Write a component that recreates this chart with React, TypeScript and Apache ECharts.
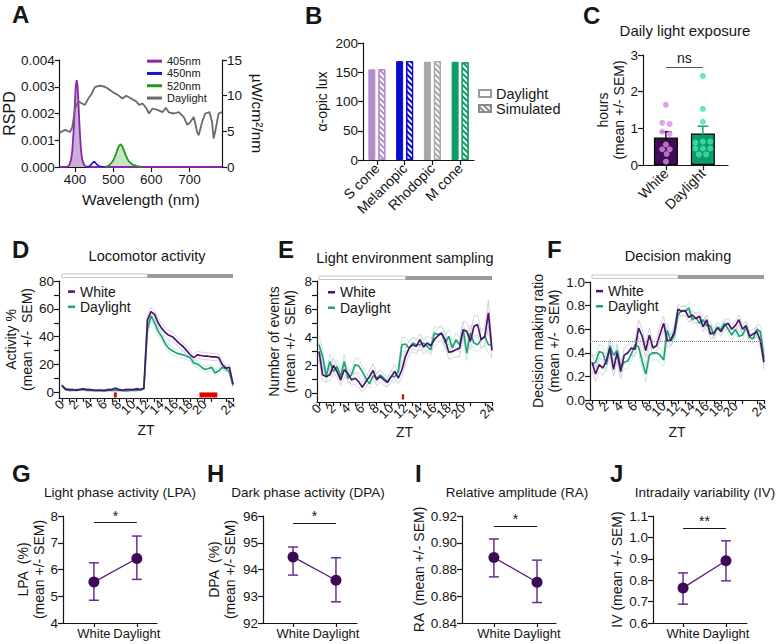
import React, { useEffect, useRef } from 'react';
import * as echarts from 'echarts';

const FONT = 'Liberation Sans, Arial, Helvetica, sans-serif';
const INK = '#161616';

// ---------- Panel A: spectra ----------
const wl405 = [360, 380, 385, 390, 393, 396, 398, 400, 402, 404.5, 407, 409, 411, 413, 416, 419, 424, 430, 440, 785];
const rspd405 = [0, 0.00001, 0.00007, 0.00028, 0.0006, 0.00125, 0.0018, 0.00245, 0.003, 0.00325, 0.003, 0.00245, 0.0018, 0.00125, 0.0006, 0.00028, 0.00007, 0.00001, 0, 0];
const wl450 = [430, 438, 443, 447, 450, 453, 457, 462, 470, 480];
const rspd450 = [0, 0.00003, 0.0001, 0.00017, 0.0002, 0.00017, 0.0001, 0.00004, 0.00001, 0];
const wl520 = [478, 485, 490, 495, 500, 505, 510, 515, 519, 523, 527, 532, 537, 542, 550, 560, 575];
const rspd520 = [0, 0.00003, 0.00007, 0.00015, 0.00024, 0.0004, 0.0006, 0.00078, 0.00085, 0.0008, 0.00066, 0.00047, 0.00031, 0.0002, 0.0001, 0.00004, 0];
const wlDay = [360, 374, 387, 393, 400, 409, 419, 426, 435, 443, 452, 465, 478, 486, 499, 512, 525, 534, 547, 560, 568, 577, 586, 594, 603, 616, 629, 638, 646, 659, 672, 685, 694, 702, 711, 720, 724, 733, 741, 752, 759, 763, 767, 776, 785];
const irrDay = [4.8, 5.2, 4.9, 5.6, 8.2, 9.2, 8.9, 8.7, 9.6, 10.2, 11.2, 11.4, 11.25, 11.0, 10.5, 10.1, 9.6, 10.0, 9.6, 9.2, 8.7, 8.9, 8.3, 7.5, 8.2, 8.0, 7.7, 8.3, 7.65, 7.5, 7.7, 7.0, 5.9, 6.3, 7.0, 4.9, 4.45, 6.3, 7.5, 7.7, 6.3, 4.0, 4.9, 7.5, 7.7];
const wlTicks = [400, 500, 600, 700];

// ---------- Panel B ----------
const catsB = ['S cone', 'Melanopic', 'Rhodopic', 'M cone'];
const daylightB = [155, 169, 168, 168];
const simulatedB = [155, 169, 169, 167];
const colorsB = ['#b38bcb', '#0b0bcf', '#a7a7ab', '#0f9d63'];

// ---------- Panel C ----------
const groups = ['White', 'Daylight'];
const cX = [0, 1];
const cMean = [0.75, 0.86];
const cErrLo = [0.62, 0.67];
const cErrHi = [0.91, 1.06];
const cWhiteDotX = [0, -0.1, 0.1, -0.1, 0.1, 0, -0.1, 0.1, 0.02, 0];
const cWhiteDotY = [1.64, 1.15, 1.12, 0.91, 0.85, 0.56, 0.43, 0.43, 0.3, 0.09];
const cDayDotX = [1, 1, 1, 0.8, 1, 1.2, 0.8, 1, 1.2, 0.89, 1.09];
const cDayDotY = [2.43, 1.53, 1.18, 0.61, 0.64, 0.64, 0.45, 0.45, 0.45, 0.29, 0.29];
const cSig = 2.66;

// ---------- Panels D, E, F (ZT time courses) ----------
const zt = [0, 0.5, 1, 1.5, 2, 2.5, 3, 3.5, 4, 4.5, 5, 5.5, 6, 6.5, 7, 7.5, 8, 8.5, 9, 9.5, 10, 10.5, 11, 11.5, 12, 12.5, 13, 13.5, 14, 14.5, 15, 15.5, 16, 16.5, 17, 17.5, 18, 18.5, 19, 19.5, 20, 20.5, 21, 21.5, 22, 22.5, 23, 23.5, 24];
const ztLabels = [0, 2, 4, 6, 8, 10, 12, 14, 16, 18, 20, 22, 24];
const ztTicks = [0, 1, 2, 3, 4, 5, 6, 7, 8, 9, 10, 11, 12, 13, 14, 15, 16, 17, 18, 19, 20, 21, 22, 23, 24];

const dWhite = [5, 2.5, 2, 2, 1.5, 2, 2.5, 2, 2, 1.5, 1.5, 1.5, 1.5, 2, 2, 3, 2, 1.5, 2, 2, 2, 2.5, 2, 3, 52, 58, 56, 50, 46, 43, 41, 40, 37.5, 35, 33, 30, 27, 25, 27, 26.5, 26, 26, 25.5, 25.5, 25, 20, 17.5, 18, 6];
const dDay = [5, 2, 1.5, 1.5, 2, 2, 2, 1.5, 1.5, 1.5, 1.5, 1.5, 1, 1.5, 1.5, 1.5, 1.5, 1.5, 1, 1.5, 1.5, 1.5, 2, 2.5, 45, 55, 50, 44, 40, 35, 31.5, 30, 28.5, 27.5, 27, 26, 25, 21, 20.5, 18.5, 16.5, 17, 18, 14, 15.5, 18, 17, 14.5, 5];
const dSemWhite = [1, 0.6, 0.5, 0.5, 0.5, 0.6, 0.6, 0.5, 0.5, 0.5, 0.5, 0.5, 0.5, 0.6, 0.6, 0.7, 0.6, 0.5, 0.6, 0.6, 0.6, 0.7, 0.6, 0.8, 4, 3, 3, 3, 3, 3, 3.5, 3.5, 3, 3, 3, 3, 2.5, 2.5, 2.5, 2.5, 2.5, 2.5, 2.5, 2.5, 2.5, 2.5, 2, 2, 1.5];
const dSemDay = [1, 0.5, 0.4, 0.4, 0.5, 0.5, 0.5, 0.4, 0.4, 0.4, 0.4, 0.4, 0.3, 0.4, 0.4, 0.4, 0.4, 0.4, 0.3, 0.4, 0.4, 0.4, 0.5, 0.6, 4, 3, 3, 3, 2.5, 2.5, 2.5, 2.5, 2.5, 2.5, 2.5, 2.5, 2.5, 2.5, 2.5, 2, 2, 2, 2, 2, 2, 2, 2, 2, 1.5];
const dSigStart = [7.3, 19.3];
const dSigEnd = [7.7, 21.8];

const eWhite = [3.0, 1.33, 1.2, 1.33, 2.0, 1.57, 0.97, 1.69, 1.45, 0.97, 1.09, 0.85, 0.45, 0.85, 1.2, 1.64, 0.97, 1.2, 0.97, 0.78, 1.2, 1.57, 1.09, 1.69, 2.64, 3.23, 3.47, 3.35, 3.83, 3.3, 3.59, 3.4, 3.83, 4.11, 4.3, 3.83, 2.93, 3.0, 3.11, 3.23, 4.54, 4.42, 3.71, 4.78, 4.9, 3.83, 4.07, 5.73, 3.07];
const eDay = [3.47, 2.64, 1.2, 2.28, 1.57, 1.92, 1.2, 2.28, 1.09, 1.33, 2.04, 1.97, 1.57, 1.09, 0.69, 1.26, 1.09, 1.33, 1.09, 0.85, 1.2, 1.2, 1.57, 3.47, 3.52, 3.23, 3.59, 3.47, 3.47, 3.59, 3.35, 3.11, 4.3, 4.19, 4.3, 3.59, 4.07, 3.23, 3.83, 3.47, 4.54, 2.88, 4.3, 3.59, 3.47, 3.83, 4.07, 3.47, 3.47];
const eSemWhite = [0.6, 0.4, 0.4, 0.4, 0.5, 0.4, 0.4, 0.5, 0.4, 0.4, 0.4, 0.4, 0.3, 0.4, 0.4, 0.5, 0.4, 0.4, 0.4, 0.3, 0.4, 0.5, 0.4, 0.5, 0.5, 0.5, 0.5, 0.5, 0.4, 0.5, 0.5, 0.5, 0.5, 0.5, 0.5, 0.5, 0.5, 0.5, 0.5, 0.6, 0.6, 0.6, 0.6, 0.7, 0.7, 0.6, 0.7, 0.9, 0.6];
const eSemDay = [0.7, 0.5, 0.4, 0.5, 0.4, 0.5, 0.4, 0.5, 0.4, 0.4, 0.5, 0.5, 0.4, 0.4, 0.3, 0.4, 0.3, 0.4, 0.3, 0.3, 0.4, 0.4, 0.4, 0.5, 0.5, 0.4, 0.4, 0.4, 0.4, 0.4, 0.4, 0.4, 0.5, 0.5, 0.5, 0.5, 0.5, 0.5, 0.5, 0.5, 0.6, 0.5, 0.6, 0.5, 0.5, 0.6, 0.6, 0.6, 0.9];
const eSigStart = [11.5];
const eSigEnd = [11.8];

const fWhite = [0.32, 0.22, 0.3, 0.27, 0.33, 0.44, 0.26, 0.4, 0.24, 0.38, 0.4, 0.44, 0.43, 0.61, 0.54, 0.42, 0.55, 0.44, 0.46, 0.56, 0.65, 0.5, 0.51, 0.58, 0.77, 0.75, 0.76, 0.7, 0.72, 0.69, 0.71, 0.62, 0.68, 0.56, 0.57, 0.61, 0.58, 0.63, 0.65, 0.6, 0.63, 0.68, 0.6, 0.63, 0.54, 0.56, 0.58, 0.5, 0.32];
const fDay = [0.3, 0.32, 0.41, 0.4, 0.3, 0.46, 0.38, 0.42, 0.28, 0.32, 0.33, 0.39, 0.47, 0.45, 0.33, 0.22, 0.38, 0.4, 0.4, 0.38, 0.34, 0.59, 0.5, 0.55, 0.72, 0.76, 0.75, 0.78, 0.68, 0.7, 0.65, 0.68, 0.63, 0.63, 0.55, 0.62, 0.6, 0.65, 0.6, 0.55, 0.6, 0.54, 0.55, 0.62, 0.53, 0.52, 0.6, 0.58, 0.35];
const fSemWhite = [0.07, 0.06, 0.06, 0.06, 0.06, 0.07, 0.06, 0.07, 0.06, 0.06, 0.06, 0.06, 0.06, 0.07, 0.06, 0.06, 0.06, 0.06, 0.06, 0.06, 0.06, 0.06, 0.05, 0.05, 0.04, 0.04, 0.04, 0.04, 0.04, 0.04, 0.04, 0.04, 0.04, 0.04, 0.04, 0.04, 0.04, 0.04, 0.04, 0.04, 0.04, 0.04, 0.04, 0.04, 0.04, 0.04, 0.04, 0.05, 0.06];
const fSemDay = [0.07, 0.06, 0.06, 0.06, 0.06, 0.06, 0.06, 0.06, 0.06, 0.06, 0.06, 0.06, 0.06, 0.06, 0.06, 0.07, 0.06, 0.06, 0.06, 0.06, 0.06, 0.06, 0.05, 0.05, 0.04, 0.04, 0.04, 0.04, 0.04, 0.04, 0.04, 0.04, 0.04, 0.04, 0.04, 0.04, 0.04, 0.04, 0.04, 0.04, 0.04, 0.04, 0.04, 0.04, 0.04, 0.04, 0.04, 0.05, 0.06];
const fChance = 0.5;

// ---------- Panels G–J ----------
const gMean = [5.53, 6.41], gLo = [4.85, 5.63], gHi = [6.25, 7.25], gSig = 7.75;
const hMean = [94.47, 93.6], hLo = [93.79, 92.79], hHi = [94.84, 94.44], hSig = 95.73;
const iMean = [0.889, 0.8705], iLo = [0.8745, 0.8553], iHi = [0.9028, 0.887], iSig = 0.9125;
const jMean = [0.764, 0.891], jLo = [0.688, 0.797], jHi = [0.834, 0.984], jSig = 1.042;

// ---------- colours ----------
const C_WHITE = '#4b1668';
const C_DAY = '#1fa37a';
const C_SEM_W = '#cdc4d6';
const C_SEM_D = '#bfe2d3';
const C_PT = '#3d0a57';
const C_ERR = '#6e2d91';

const pairs = (xs: number[], ys: number[]) => xs.map((x, i) => [x, ys[i]]);
const splitName = (n: string) => n.split('|')[1];

function axisCommon(o: any = {}) {
  const label = { color: INK, fontFamily: FONT, fontSize: 13.5, margin: 5, showMinLabel: true, showMaxLabel: true, ...(o.axisLabel || {}) };
  const tick = { show: true, length: 5, lineStyle: { color: INK, width: 1.2 }, ...(o.axisTick || {}) };
  const nameTextStyle = { color: INK, fontFamily: FONT, fontSize: 14, lineHeight: 16, ...(o.nameTextStyle || {}) };
  const rest = { ...o };
  delete rest.axisLabel; delete rest.axisTick; delete rest.nameTextStyle;
  return {
    axisLine: { show: true, onZero: false, lineStyle: { color: INK, width: 1.2 } },
    splitLine: { show: false },
    nameLocation: 'middle',
    axisLabel: label,
    axisTick: tick,
    nameTextStyle,
    ...rest,
  };
}

const hatch = (c: string) => ({
  symbol: 'rect', symbolSize: 1, color: c, backgroundColor: 'rgba(255,255,255,0)',
  dashArrayX: [1, 0], dashArrayY: [1.4, 1.6], rotation: Math.PI / 4,
});

const errRender = (capW: number, color: string, lw: number) => (params: any, api: any) => {
  const x = api.value(0), lo = api.value(1), hi = api.value(2);
  const p1 = api.coord([x, lo]);
  const p2 = api.coord([x, hi]);
  const st = { stroke: color, lineWidth: lw };
  return {
    type: 'group',
    children: [
      { type: 'line', shape: { x1: p1[0], y1: p1[1], x2: p2[0], y2: p2[1] }, style: st },
      { type: 'line', shape: { x1: p1[0] - capW / 2, y1: p1[1], x2: p1[0] + capW / 2, y2: p1[1] }, style: st },
      { type: 'line', shape: { x1: p2[0] - capW / 2, y1: p2[1], x2: p2[0] + capW / 2, y2: p2[1] }, style: st },
    ],
  };
};

function ztPanel(prefix: string, axIdx: number, white: number[], day: number[], semW: number[], semD: number[], extra: any) {
  const band = (v: number[], s: number[], sign: number) => zt.map((x, i) => [x, v[i] + sign * s[i]]);
  const semLine = (d: any, c: string) => ({
    type: 'line', xAxisIndex: axIdx, yAxisIndex: axIdx + 1, data: d, symbol: 'none', silent: true,
    lineStyle: { color: c, width: 0.8 }, z: 1,
  });
  return [
    semLine(band(white, semW, 1), C_SEM_W),
    semLine(band(white, semW, -1), C_SEM_W),
    semLine(band(day, semD, 1), C_SEM_D),
    semLine(band(day, semD, -1), C_SEM_D),
    {
      name: prefix + '|Daylight', type: 'line', xAxisIndex: axIdx, yAxisIndex: axIdx + 1,
      data: pairs(zt, day), symbol: 'none', lineStyle: { color: C_DAY, width: 1.7 }, itemStyle: { color: C_DAY }, z: 3,
    },
    {
      name: prefix + '|White', type: 'line', xAxisIndex: axIdx, yAxisIndex: axIdx + 1,
      data: pairs(zt, white), symbol: 'none', lineStyle: { color: C_WHITE, width: 1.7 }, itemStyle: { color: C_WHITE }, z: 4,
      ...extra,
    },
  ];
}

function sigAreas(starts: number[], ends: number[], y0: number, y1: number) {
  return {
    silent: true,
    itemStyle: { color: '#e00000' },
    data: starts.map((s, i) => [{ coord: [s, y0] }, { coord: [ends[i], y1] }]),
  };
}

function gjPanel(axX: number, axY: number, mean: number[], lo: number[], hi: number[], sig: number, star: string) {
  return [
    {
      type: 'custom', xAxisIndex: axX, yAxisIndex: axY, coordinateSystem: 'cartesian2d',
      renderItem: errRender(10, C_ERR, 1.5), data: cX.map((x, i) => [x, lo[i], hi[i]]),
      encode: { x: 0, y: [1, 2] }, z: 2, silent: true,
    },
    {
      type: 'line', xAxisIndex: axX, yAxisIndex: axY, data: pairs(cX, mean), symbol: 'circle', symbolSize: 11,
      itemStyle: { color: C_PT }, lineStyle: { color: '#5a1d7d', width: 1.3 }, z: 3, silent: true,
      markLine: {
        silent: true, symbol: ['none', 'none'],
        lineStyle: { color: INK, width: 1.1, type: 'solid' },
        label: { show: true, formatter: star, position: 'insideMiddleTop', distance: 0, color: INK, fontSize: 14, fontFamily: FONT },
        data: [[{ coord: [cX[0], sig] }, { coord: [cX[1], sig] }]],
      },
    },
  ];
}

const groupFmt = (v: number) => (v === 0 ? groups[0] : v === 1 ? groups[1] : '');

function buildOption() {
  const grids = [
    { left: 58, top: 60, width: 164, height: 107 }, // A
    { left: 363, top: 43, width: 111, height: 117 }, // B
    { left: 643, top: 55, width: 85, height: 110 }, // C
    { left: 59, top: 281, width: 174, height: 117 }, // D
    { left: 317, top: 281, width: 175, height: 121 }, // E
    { left: 590, top: 282, width: 174, height: 118 }, // F
    { left: 63, top: 516, width: 94, height: 107 }, // G
    { left: 263, top: 516, width: 94, height: 107 }, // H
    { left: 462, top: 516, width: 94, height: 107 }, // I
    { left: 653, top: 516, width: 94, height: 107 }, // J
  ];

  const ztX = (gi: number, min: number, nameGap: number) => axisCommon({
    type: 'value', gridIndex: gi, min, max: 24, name: 'ZT', nameGap,
    axisLabel: { customValues: ztLabels, rotate: 45, fontSize: 13, margin: 4 },
    axisTick: { customValues: ztTicks, length: 4 },
  });
  const gjX = (gi: number, min: number, max: number) => axisCommon({
    type: 'value', gridIndex: gi, min, max,
    axisLabel: { customValues: cX, formatter: groupFmt, fontSize: 13, margin: 4 },
    axisTick: { customValues: cX, length: 4 },
  });

  const xAxis = [
    axisCommon({
      type: 'value', gridIndex: 0, min: 360, max: 785, name: 'Wavelength (nm)', nameGap: 24,
      nameTextStyle: { fontSize: 15.5 },
      axisLabel: { customValues: wlTicks, fontSize: 13.5 }, axisTick: { customValues: wlTicks },
    }),
    axisCommon({
      type: 'category', gridIndex: 1, data: catsB,
      axisLabel: { rotate: 45, fontSize: 14, margin: 6, interval: 0 }, axisTick: { alignWithLabel: true },
    }),
    axisCommon({
      type: 'value', gridIndex: 2, min: -0.62, max: 1.68,
      axisLabel: { customValues: cX, formatter: groupFmt, rotate: 45, fontSize: 14, margin: 6 },
      axisTick: { customValues: cX },
    }),
    ztX(3, -0.4, 24),
    ztX(4, -0.28, 22),
    ztX(5, -0.28, 24),
    gjX(6, -0.72, 1.47),
    gjX(7, -0.7, 1.49),
    gjX(8, -0.74, 1.44),
    gjX(9, -0.7, 1.49),
  ];

  const yAxis = [
    axisCommon({
      type: 'value', gridIndex: 0, min: 0, max: 0.004, interval: 0.001, name: 'RSPD', nameGap: 38,
      nameTextStyle: { fontSize: 16 }, axisLabel: { formatter: (v: number) => v.toFixed(3) },
    }),
    axisCommon({
      type: 'value', gridIndex: 0, position: 'right', min: 0, max: 15, interval: 5, name: 'µW/cm²/nm', nameGap: 27,
      nameRotate: -90, nameTextStyle: { fontSize: 15.5 },
    }),
    axisCommon({ type: 'value', gridIndex: 1, min: 0, max: 200, interval: 50, name: 'α-opic lux', nameGap: 33 }),
    axisCommon({ type: 'value', gridIndex: 2, min: 0, max: 3, interval: 1, name: 'hours\n(mean +/- SEM)', nameGap: 11 }),
    axisCommon({
      type: 'value', gridIndex: 3, min: -4, max: 80, name: 'Activity %\n(mean +/-  SEM)', nameGap: 22,
      axisLabel: { customValues: [0, 20, 40, 60, 80] }, axisTick: { customValues: [0, 10, 20, 30, 40, 50, 60, 70, 80] },
    }),
    axisCommon({
      type: 'value', gridIndex: 4, min: -0.6, max: 8, name: 'Number of events\n(mean +/-  SEM)', nameGap: 19,
      axisLabel: { customValues: [0, 2, 4, 6, 8] }, axisTick: { customValues: [0, 1, 2, 3, 4, 5, 6, 7, 8] },
    }),
    axisCommon({
      type: 'value', gridIndex: 5, min: 0, max: 1, interval: 0.2, name: 'Decision making ratio\n(mean +/-  SEM)', nameGap: 25,
      axisLabel: { formatter: (v: number) => v.toFixed(1) },
    }),
    axisCommon({ type: 'value', gridIndex: 6, min: 4, max: 8, interval: 1, name: 'LPA  (%)\n(mean +/- SEM)', nameGap: 15 }),
    axisCommon({ type: 'value', gridIndex: 7, min: 92, max: 96, interval: 1, name: 'DPA  (%)\n(mean +/- SEM)', nameGap: 25 }),
    axisCommon({
      type: 'value', gridIndex: 8, min: 0.84, max: 0.92, interval: 0.02, name: 'RA  (mean +/- SEM)', nameGap: 34,
      axisLabel: { formatter: (v: number) => v.toFixed(2) },
    }),
    axisCommon({
      type: 'value', gridIndex: 9, min: 0.6, max: 1.1, interval: 0.1, name: 'IV (mean +/- SEM)', nameGap: 28,
      axisLabel: { formatter: (v: number) => v.toFixed(1) },
    }),
  ];

  const series: any[] = [
    // A
    {
      name: 'A|405nm', type: 'line', xAxisIndex: 0, yAxisIndex: 0, data: pairs(wl405, rspd405), symbol: 'none',
      lineStyle: { color: '#8e24aa', width: 1.8 }, itemStyle: { color: '#8e24aa' }, areaStyle: { color: 'rgba(132,64,168,0.6)' },
    },
    {
      name: 'A|450nm', type: 'line', xAxisIndex: 0, yAxisIndex: 0, data: pairs(wl450, rspd450), symbol: 'none',
      lineStyle: { color: '#1414d2', width: 1.6 }, itemStyle: { color: '#1414d2' },
    },
    {
      name: 'A|520nm', type: 'line', xAxisIndex: 0, yAxisIndex: 0, data: pairs(wl520, rspd520), symbol: 'none',
      lineStyle: { color: '#1f9a1f', width: 1.8 }, itemStyle: { color: '#1f9a1f' }, areaStyle: { color: 'rgba(70,175,70,0.45)' },
    },
    {
      name: 'A|Daylight', type: 'line', xAxisIndex: 0, yAxisIndex: 1, data: pairs(wlDay, irrDay), symbol: 'none',
      lineStyle: { color: '#6a6a6a', width: 1.8 }, itemStyle: { color: '#6a6a6a' }, z: 5,
    },
    // B
    {
      name: 'B|Daylight', type: 'bar', xAxisIndex: 1, yAxisIndex: 2, barWidth: 7, barGap: '43%',
      itemStyle: { color: '#ffffff', borderColor: '#9a9a9a', borderWidth: 1 },
      data: daylightB.map((v, i) => ({ value: v, itemStyle: { color: colorsB[i], borderColor: colorsB[i] } })),
    },
    {
      name: 'B|Simulated', type: 'bar', xAxisIndex: 1, yAxisIndex: 2, barWidth: 7,
      itemStyle: { color: '#ffffff', borderColor: '#8a8a8a', borderWidth: 1, decal: hatch('#8a8a8a') },
      data: simulatedB.map((v, i) => ({
        value: v, itemStyle: { color: '#ffffff', borderColor: colorsB[i], borderWidth: 1.2, decal: hatch(colorsB[i]) },
      })),
    },
    // C
    {
      type: 'bar', xAxisIndex: 2, yAxisIndex: 3, barWidth: 24, silent: true,
      data: cX.map((x, i) => ({
        value: [x, cMean[i]],
        itemStyle: { color: i === 0 ? '#3f0c55' : '#10996c', borderColor: '#050505', borderWidth: 1.2 },
      })),
    },
    {
      type: 'custom', xAxisIndex: 2, yAxisIndex: 3, coordinateSystem: 'cartesian2d', silent: true,
      renderItem: (p: any, api: any) => errRender(11, api.value(0) === 0 ? '#1b0524' : '#10996c', 1.4)(p, api),
      data: cX.map((x, i) => [x, cErrLo[i], cErrHi[i]]), encode: { x: 0, y: [1, 2] }, z: 3,
    },
    {
      type: 'scatter', xAxisIndex: 2, yAxisIndex: 3, data: pairs(cWhiteDotX, cWhiteDotY), symbolSize: 6,
      itemStyle: { color: '#d98ae9' }, z: 4, silent: true,
    },
    {
      type: 'scatter', xAxisIndex: 2, yAxisIndex: 3, data: pairs(cDayDotX, cDayDotY), symbolSize: 6,
      itemStyle: { color: '#3ee3ad' }, z: 4, silent: true,
      markLine: {
        silent: true, symbol: ['none', 'none'], lineStyle: { color: '#555', width: 1.1, type: 'solid' },
        label: { show: true, formatter: 'ns', position: 'insideMiddleTop', distance: 2, color: INK, fontSize: 14, fontFamily: FONT },
        data: [[{ coord: [cX[0], cSig] }, { coord: [cX[1], cSig] }]],
      },
    },
    // D, E, F
    ...ztPanel('D', 3, dWhite, dDay, dSemWhite, dSemDay, { markArea: sigAreas(dSigStart, dSigEnd, -3.6, 0) }),
    ...ztPanel('E', 4, eWhite, eDay, eSemWhite, eSemDay, { markArea: sigAreas(eSigStart, eSigEnd, -0.42, -0.05) }),
    ...ztPanel('F', 5, fWhite, fDay, fSemWhite, fSemDay, {
      markLine: {
        silent: true, symbol: ['none', 'none'], label: { show: false },
        lineStyle: { color: '#8a8a8a', width: 1, type: 'dotted' }, data: [{ yAxis: fChance }],
      },
    }),
    // G–J
    ...gjPanel(6, 7, gMean, gLo, gHi, gSig, '*'),
    ...gjPanel(7, 8, hMean, hLo, hHi, hSig, '*'),
    ...gjPanel(8, 9, iMean, iLo, iHi, iSig, '*'),
    ...gjPanel(9, 10, jMean, jLo, jHi, jSig, '**'),
  ];

  const legText = (fs: number, lh: number) => ({ color: INK, fontFamily: FONT, fontSize: fs, lineHeight: lh });
  const legend = [
    {
      data: ['A|405nm', 'A|450nm', 'A|520nm', 'A|Daylight'], left: 147, top: 55, orient: 'vertical', icon: 'rect',
      itemWidth: 15, itemHeight: 3, itemGap: 0, padding: 0, formatter: splitName, selectedMode: false, textStyle: legText(11, 12.3),
    },
    {
      data: ['B|Daylight', 'B|Simulated'], left: 478, top: 86, orient: 'vertical', icon: 'rect',
      itemWidth: 12, itemHeight: 7, itemGap: 0, padding: 0, formatter: splitName, selectedMode: false, textStyle: legText(14.5, 14.5),
    },
    {
      data: ['D|White', 'D|Daylight'], left: 68, top: 284, orient: 'vertical', icon: 'rect',
      itemWidth: 7, itemHeight: 2.5, itemGap: 0, padding: 0, formatter: splitName, selectedMode: false, textStyle: legText(14, 15.2),
    },
    {
      data: ['E|White', 'E|Daylight'], left: 328, top: 284.5, orient: 'vertical', icon: 'rect',
      itemWidth: 7, itemHeight: 2.5, itemGap: 0, padding: 0, formatter: splitName, selectedMode: false, textStyle: legText(14, 15.5),
    },
    {
      data: ['F|White', 'F|Daylight'], left: 596, top: 283.5, orient: 'vertical', icon: 'rect',
      itemWidth: 7, itemHeight: 2.5, itemGap: 0, padding: 0, formatter: splitName, selectedMode: false, textStyle: legText(14, 15.2),
    },
  ];

  return {
    animation: false,
    backgroundColor: '#ffffff',
    textStyle: { fontFamily: FONT },
    grid: grids,
    xAxis,
    yAxis,
    series,
    legend,
  };
}

function buildGraphic(chart: any) {
  const txt = (text: string, x: number, y: number, fontSize: number, bold = false, align = 'center') => ({
    type: 'text', x, y, silent: true,
    style: { text, fontSize, fontFamily: FONT, fontWeight: bold ? 'bold' : 'normal', fill: INK, align, verticalAlign: 'middle' },
  });
  const letters = [
    ['A', 12, 14], ['B', 305, 15], ['C', 583, 15], ['D', 12, 249], ['E', 278, 249], ['F', 547, 249],
    ['G', 12, 473], ['H', 207, 473], ['I', 415, 473], ['J', 610, 473],
  ].map(([t, x, y]) => txt(t as string, x as number, y as number, 24, true, 'left'));
  const titles = [
    ['Daily light exposure', 685, 30, 15], ['Locomotor activity', 147, 256, 14.5],
    ['Light environment sampling', 405, 258, 14.5], ['Decision making', 678, 256, 14.5],
    ['Light phase activity (LPA)', 120, 492, 13.5], ['Dark phase activity (DPA)', 308, 492, 13.5],
    ['Relative amplitude (RA)', 517, 492, 13.5], ['Intradaily variability (IV)', 705, 492, 13.5],
  ].map(([t, x, y, f]) => txt(t as string, x as number, y as number, f as number));

  const bars: any[] = [];
  [[3, 274], [4, 276], [5, 275]].forEach(([ax, y]) => {
    const x0 = chart.convertToPixel({ xAxisIndex: ax }, 0);
    const x12 = chart.convertToPixel({ xAxisIndex: ax }, 12);
    const x24 = chart.convertToPixel({ xAxisIndex: ax }, 24);
    bars.push({ type: 'rect', silent: true, shape: { x: x0, y, width: x12 - x0, height: 3.5 }, style: { fill: '#ffffff', stroke: '#b8b8b8', lineWidth: 0.8 } });
    bars.push({ type: 'rect', silent: true, shape: { x: x12, y, width: x24 - x12, height: 4 }, style: { fill: '#9b9b9b' } });
  });
  return [...letters, ...titles, ...bars];
}

export default function App() {
  const ref = useRef<HTMLDivElement>(null);
  useEffect(() => {
    const chart = echarts.init(ref.current!, null, { renderer: 'svg' });
    chart.setOption(buildOption() as any);
    chart.setOption({ graphic: buildGraphic(chart) } as any);
    return () => chart.dispose();
  }, []);
  return <div ref={ref} style={{ position: 'absolute', left: 0, top: 0, width: 778, height: 644, background: '#fff' }} />;
}
